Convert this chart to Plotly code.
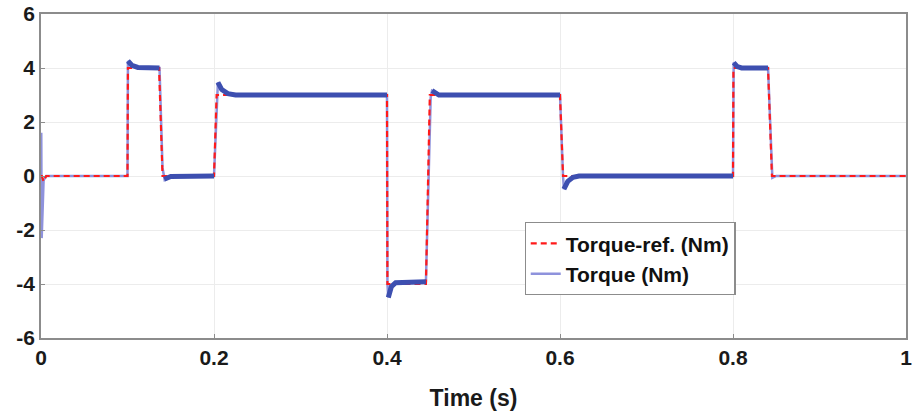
import plotly.graph_objects as go

# Reference torque (Nm) breakpoints
ref_time = [0, 0.001, 0.003, 0.006, 0.1, 0.1005, 0.1365, 0.1405, 0.2, 0.203,
            0.4, 0.4005, 0.445, 0.4495, 0.6, 0.6035, 0.8, 0.8005, 0.8405, 0.845, 1.0]
ref_value = [0, 0, -0.2, 0, 0, 4, 4, 0, 0, 3,
             3, -4, -4, 3, 3, 0, 0, 4, 4, 0, 0]

# Measured torque (Nm) trace breakpoints
torque_time = [0, 0.0003, 0.0008, 0.003, 0.006, 0.1, 0.1005, 0.105, 0.112, 0.137,
               0.1405, 0.143, 0.15, 0.2, 0.2045, 0.209, 0.216, 0.225, 0.4, 0.4005,
               0.4015, 0.405, 0.41, 0.445, 0.4505, 0.452, 0.46, 0.6, 0.6035, 0.6045,
               0.609, 0.615, 0.622, 0.8, 0.8008, 0.805, 0.81, 0.8405, 0.8455, 0.85, 1.0]
torque_value = [0, 1.6, -2.3, -0.15, 0, 0, 4.26, 4.1, 4.02, 4.0,
                0.3, -0.15, -0.02, 0, 3.47, 3.2, 3.05, 3.0, 3.0, -4.0,
                -4.5, -4.1, -3.95, -3.9, 2.9, 3.16, 3.0, 3.0, 0.0, -0.49,
                -0.2, -0.05, 0, 0, 4.2, 4.05, 4.0, 4.0, -0.07, 0, 0]

# Ripple band of the torque (centre line of the oscillation envelope)
ripple_time = [0.1005, 0.105, 0.112, 0.137, None,
               0.1425, 0.15, 0.2, None,
               0.2045, 0.209, 0.216, 0.225, 0.4, None,
               0.4015, 0.405, 0.41, 0.445, None,
               0.452, 0.46, 0.6, None,
               0.6045, 0.609, 0.615, 0.622, 0.8, None,
               0.8008, 0.805, 0.81, 0.8405]
ripple_value = [4.26, 4.1, 4.02, 4.0, None,
                -0.12, -0.02, 0.0, None,
                3.47, 3.2, 3.05, 3.0, 3.0, None,
                -4.5, -4.1, -3.95, -3.92, None,
                3.16, 3.0, 3.0, None,
                -0.49, -0.2, -0.05, 0.0, 0.0, None,
                4.2, 4.05, 4.0, 4.0]

x_ticks = [0, 0.2, 0.4, 0.6, 0.8, 1]
x_tick_labels = ["0", "0.2", "0.4", "0.6", "0.8", "1"]
y_ticks = [-6, -4, -2, 0, 2, 4, 6]
y_tick_labels = ["-6", "-4", "-2", "0", "2", "4", "6"]

fig = go.Figure()
fig.add_trace(go.Scatter(
    x=torque_time, y=torque_value, mode="lines", name="Torque (Nm)",
    line=dict(color="#8e92dc", width=2.5), legendrank=2))
fig.add_trace(go.Scatter(
    x=ref_time, y=ref_value, mode="lines", name="Torque-ref. (Nm)",
    line=dict(color="#ff1a1a", width=2.2, dash="6px,4px"), legendrank=1))
fig.add_trace(go.Scatter(
    x=ripple_time, y=ripple_value, mode="lines", showlegend=False,
    line=dict(color="#3d4fb0", width=5), connectgaps=False))

font_family = "Liberation Sans, Arial, sans-serif"
axis_common = dict(
    showline=True, mirror=True, linecolor="#8c8c8c", linewidth=1.5,
    showgrid=True, gridcolor="#ececec", gridwidth=1,
    ticks="inside", ticklen=4, tickcolor="#8c8c8c", zeroline=False,
    ticklabeloverflow="allow",
    tickfont=dict(family=font_family, size=21, color="#1a1a1a", weight="bold"),
)
fig.update_xaxes(range=[0, 1], tickvals=x_ticks, ticktext=x_tick_labels,
                 title=dict(text="Time (s)", standoff=22,
                            font=dict(family=font_family, size=23, color="#1a1a1a", weight="bold")),
                 **axis_common)
fig.update_yaxes(range=[-6, 6], tickvals=y_ticks, ticktext=y_tick_labels, **axis_common)

fig.update_layout(
    width=914, height=416,
    margin=dict(l=41, r=2, t=14, b=78),
    paper_bgcolor="white", plot_bgcolor="white",
    showlegend=True,
    legend=dict(x=0.559, y=0.358, xanchor="left", yanchor="top",
                bgcolor="white", bordercolor="#8c8c8c", borderwidth=1.2,
                font=dict(family=font_family, size=21, color="#111", weight="bold"),
                itemwidth=30, tracegroupgap=0),
)

fig.write_html("out.html")
